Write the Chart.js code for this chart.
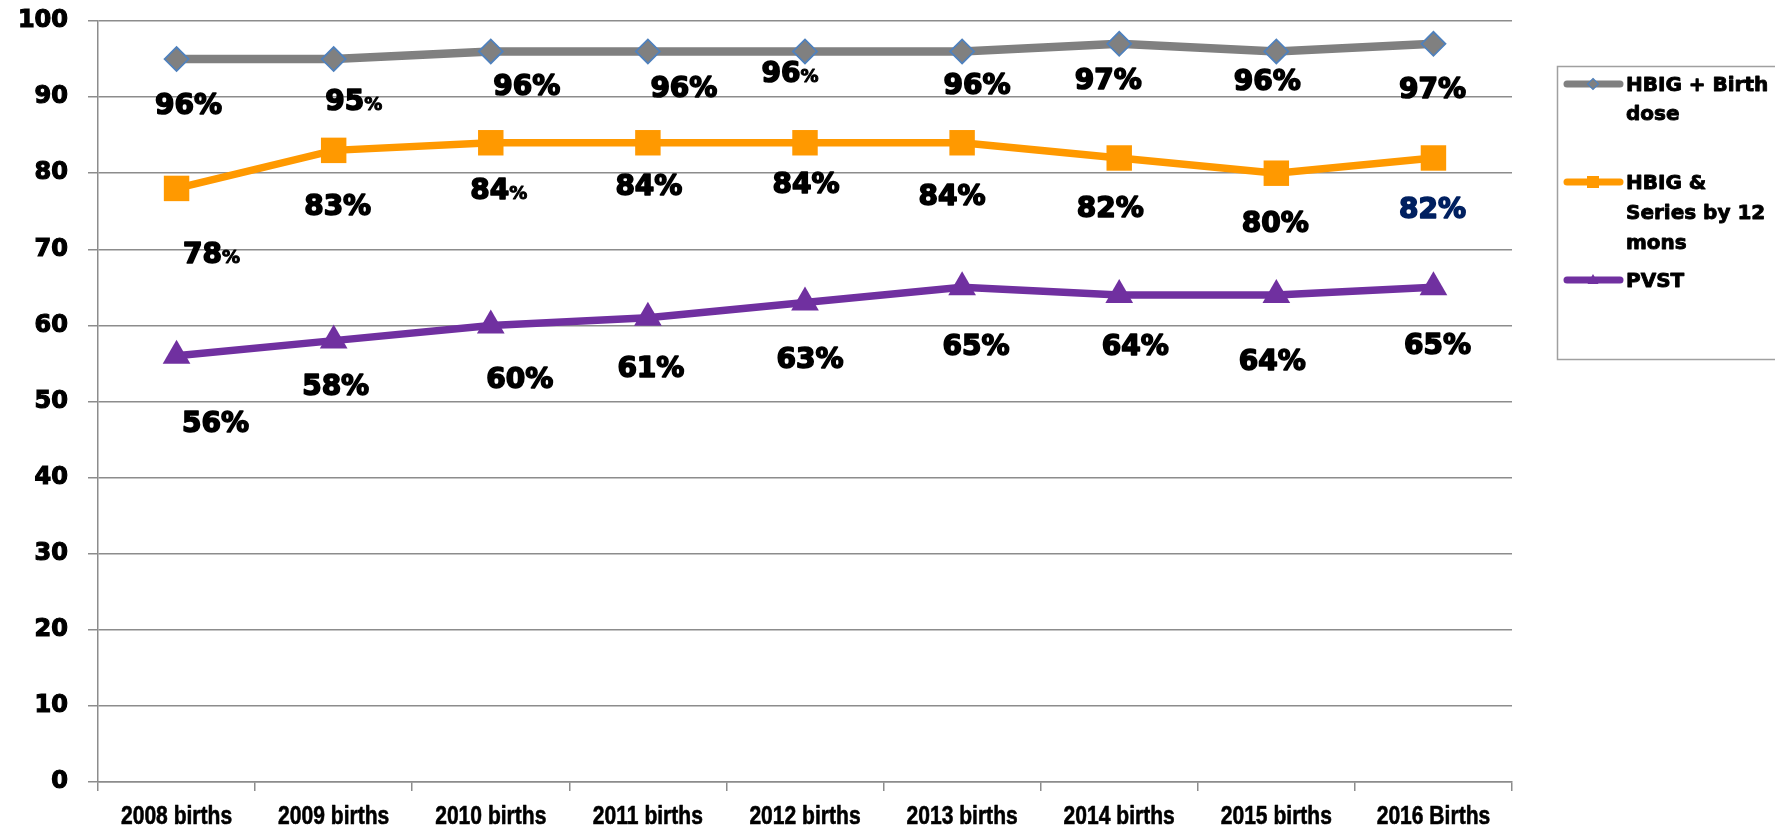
<!DOCTYPE html>
<html><head><meta charset="utf-8">
<script src="https://cdn.jsdelivr.net/npm/chart.js@4.4.0/dist/chart.umd.min.js"></script>
<style>html,body{margin:0;padding:0;background:#fff;}canvas{display:block;}</style>
</head><body>
<canvas id="c" width="1775" height="829"></canvas>
<script>
// ---- data ----
const categories = ['2008 births','2009 births','2010 births','2011 births','2012 births','2013 births','2014 births','2015 births','2016 Births'];
const seriesNames = ['HBIG + Birth dose','HBIG & Series by 12 mons','PVST'];
const hbigBirthDose = [95,95,96,96,96,96,97,96,97];
const hbigSeries12 = [78,83,84,84,84,84,82,80,82];
const pvst = [56,58,60,61,63,65,64,64,65];
const hbigBirthDoseLabels = ['96%','95%','96%','96%','96%','96%','97%','96%','97%'];
const hbigSeries12Labels = ['78%','83%','84%','84%','84%','84%','82%','80%','82%'];
const pvstLabels = ['56%','58%','60%','61%','63%','65%','64%','64%','65%'];
const yTicks = [0,10,20,30,40,50,60,70,80,90,100];
const legendLines = [['HBIG + Birth','dose'],['HBIG &','Series by 12','mons'],['PVST']];

// ---- label styling (nudges relative to library-computed points) ----
const nudgeGray = [[12,45],[20,41],[36,33],[36,35],[-15,20],[15,32],[-11,35],[-9,28],[-1,44]];
const nudgeOrange = [[35,64],[4,54],[8,46],[1,42],[1,40],[-10,52],[-9,49],[-1,49],[-1,50]];
const nudgePurple = [[39,66],[2,44],[29,52],[3,49],[5,55],[14,57],[16,50],[-4,65],[4,56]];
const smallPctGray = [false,true,false,false,true,false,false,false,false];
const smallPctOrange = [true,false,true,false,false,false,false,false,false];
const smallPctPurple = [false,false,false,false,false,false,false,false,false];
const labelColorsOrange = ['#000','#000','#000','#000','#000','#000','#000','#000','#002060'];

const GRID = '#8c8c8c';
const LABEL_FONT = '"DejaVu Sans", sans-serif';

function heavyText(ctx, t, x, y, w) {
  ctx.lineWidth = w;
  ctx.lineJoin = 'round';
  ctx.strokeStyle = ctx.fillStyle;
  ctx.strokeText(t, x, y);
  ctx.fillText(t, x, y);
}

const dataLabelPlugin = {
  id: 'dataLabels',
  afterDatasetsDraw(chart) {
    const ctx = chart.ctx;
    ctx.save();
    ctx.textBaseline = 'alphabetic';
    chart.data.datasets.forEach((ds, i) => {
      const meta = chart.getDatasetMeta(i);
      meta.data.forEach((pt, j) => {
        const txt = ds.valueLabels[j];
        const nd = ds.labelNudge[j];
        const cx = pt.x + nd[0];
        const cy = pt.y + nd[1];
        const base = cy + 0.3645 * 28;
        ctx.fillStyle = ds.labelColors ? ds.labelColors[j] : '#000';
        const num = txt.replace('%','');
        if (ds.smallPct[j]) {
          ctx.font = 'bold 28px ' + LABEL_FONT;
          const w1 = ctx.measureText(num).width;
          ctx.font = 'bold 18px ' + LABEL_FONT;
          const w2 = ctx.measureText('%').width;
          const x0 = cx - (w1 + w2) / 2;
          ctx.textAlign = 'left';
          ctx.font = 'bold 28px ' + LABEL_FONT;
          heavyText(ctx, num, x0, base, 1.6);
          ctx.font = 'bold 18px ' + LABEL_FONT;
          heavyText(ctx, '%', x0 + w1, base, 1.0);
        } else {
          ctx.font = 'bold 28px ' + LABEL_FONT;
          ctx.textAlign = 'center';
          heavyText(ctx, txt, cx, base, 1.6);
        }
      });
    });
    ctx.restore();
  }
};

const xLabelPlugin = {
  id: 'xLabels',
  afterDraw(chart) {
    const ctx = chart.ctx;
    const xs = chart.scales.x;
    ctx.save();
    ctx.fillStyle = '#000';
    ctx.font = 'bold 26px "Liberation Sans", Arial, sans-serif';
    ctx.textAlign = 'center';
    ctx.textBaseline = 'alphabetic';
    categories.forEach((c, i) => {
      const x = xs.getPixelForTick(i);
      ctx.save();
      ctx.translate(x, xs.bottom - 5);
      ctx.scale(0.81, 1);
      heavyText(ctx, c, 0, 0, 0.6);
      ctx.restore();
    });
    ctx.restore();
  }
};

const legendPlugin = {
  id: 'boxLegend',
  afterDraw(chart) {
    const ctx = chart.ctx;
    ctx.save();
    ctx.strokeStyle = '#a0a0a0';
    ctx.lineWidth = 1.5;
    ctx.strokeRect(1557.5, 66.5, 260, 293);
    const rowY = [[84,113],[182,212,242],[280]];
    ctx.font = 'bold 20px ' + LABEL_FONT;
    ctx.textAlign = 'left';
    ctx.textBaseline = 'alphabetic';
    chart.data.datasets.forEach((ds, i) => {
      const y = rowY[i][0];
      ctx.strokeStyle = ds.borderColor;
      ctx.lineWidth = 7;
      ctx.lineCap = 'round';
      ctx.beginPath();
      ctx.moveTo(1567, y);
      ctx.lineTo(1620, y);
      ctx.stroke();
      const mx = 1593;
      ctx.lineCap = 'butt';
      if (i === 0) {
        ctx.fillStyle = ds.pointBackgroundColor;
        ctx.strokeStyle = ds.pointBorderColor;
        ctx.lineWidth = 1.2;
        ctx.beginPath();
        ctx.moveTo(mx, y - 5.5); ctx.lineTo(mx + 5.5, y); ctx.lineTo(mx, y + 5.5); ctx.lineTo(mx - 5.5, y); ctx.closePath();
        ctx.fill(); ctx.stroke();
      } else if (i === 1) {
        ctx.fillStyle = ds.pointBackgroundColor;
        ctx.fillRect(mx - 6, y - 6, 12, 12);
      } else {
        ctx.fillStyle = ds.pointBackgroundColor;
        ctx.beginPath();
        ctx.moveTo(mx, y - 6); ctx.lineTo(mx + 5.5, y + 4); ctx.lineTo(mx - 5.5, y + 4); ctx.closePath();
        ctx.fill();
      }
      ctx.fillStyle = '#000';
      legendLines[i].forEach((t, k) => {
        heavyText(ctx, t, 1626, rowY[i][k] + 0.3645 * 20, 0.9);
      });
    });
    ctx.restore();
  }
};

new Chart(document.getElementById('c'), {
  type: 'line',
  data: {
    labels: categories,
    datasets: [
      {
        label: seriesNames[0], data: hbigBirthDose, valueLabels: hbigBirthDoseLabels,
        labelNudge: nudgeGray, smallPct: smallPctGray,
        borderColor: '#808080', borderWidth: 8.5, tension: 0,
        pointStyle: 'rectRot', pointRadius: 12, pointBackgroundColor: '#808080',
        pointBorderColor: '#4F81BD', pointBorderWidth: 1.8
      },
      {
        label: seriesNames[1], data: hbigSeries12, valueLabels: hbigSeries12Labels,
        labelNudge: nudgeOrange, smallPct: smallPctOrange, labelColors: labelColorsOrange,
        borderColor: '#FF9900', borderWidth: 7.5, tension: 0,
        pointStyle: 'rect', pointRadius: 18, pointBackgroundColor: '#FF9900',
        pointBorderColor: '#FF9900', pointBorderWidth: 0
      },
      {
        label: seriesNames[2], data: pvst, valueLabels: pvstLabels,
        labelNudge: nudgePurple, smallPct: smallPctPurple,
        borderColor: '#7030A0', borderWidth: 7.5, tension: 0,
        pointStyle: 'triangle', pointRadius: 16, pointBackgroundColor: '#7030A0',
        pointBorderColor: '#7030A0', pointBorderWidth: 0
      }
    ]
  },
  options: {
    responsive: false,
    devicePixelRatio: 1,
    animation: false,
    layout: { padding: { top: 21, right: 263, bottom: 0, left: 0 } },
    plugins: { legend: { display: false }, tooltip: { enabled: false } },
    scales: {
      x: {
        offset: true,
        afterFit(scale) { scale.height = 47; },
        grid: { offset: true, drawOnChartArea: false, drawTicks: true, tickLength: 9, color: GRID, lineWidth: 1.5 },
        border: { display: true, color: GRID, width: 1.5 },
        ticks: { display: false }
      },
      y: {
        min: 0, max: 100,
        afterFit(scale) { scale.width = 98; scale.paddingTop = 0; scale.paddingBottom = 0; },
        afterBuildTicks(scale) { scale.ticks = yTicks.map(v => ({ value: v })); },
        grid: { color: GRID, lineWidth: 1.5, drawTicks: true, tickLength: 10 },
        border: { display: true, color: GRID, width: 1.5 },
        ticks: { padding: 20, color: '#000', textStrokeColor: '#000', textStrokeWidth: 1.2,
          font: { family: LABEL_FONT, weight: 'bold', size: 24 } }
      }
    }
  },
  plugins: [dataLabelPlugin, xLabelPlugin, legendPlugin]
});
</script>
</body></html>
